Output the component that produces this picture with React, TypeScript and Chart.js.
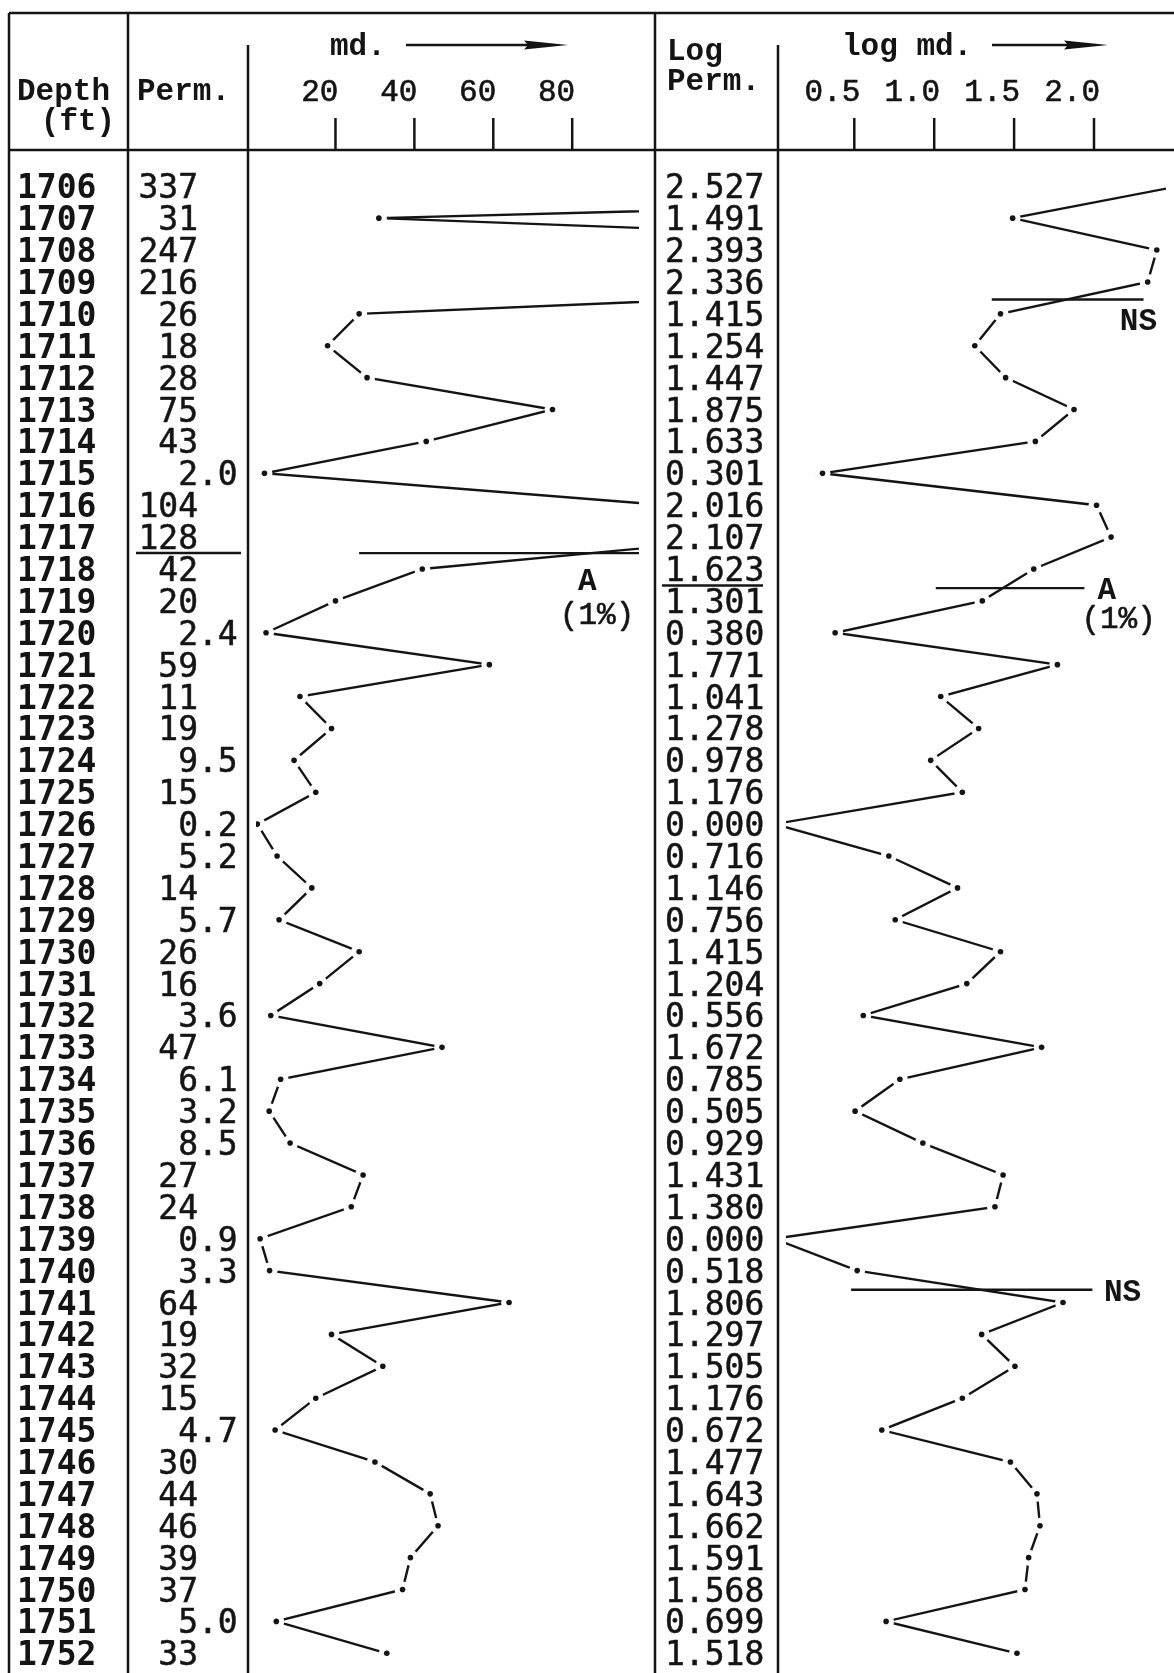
import React, { useEffect, useRef } from 'react';
import { Chart, registerables } from 'chart.js';

Chart.register(...registerables);

// ---------------- data ----------------
const depths = [
  1706, 1707, 1708, 1709, 1710, 1711, 1712, 1713, 1714, 1715, 1716, 1717, 1718, 1719, 1720, 1721,
  1722, 1723, 1724, 1725, 1726, 1727, 1728, 1729, 1730, 1731, 1732, 1733, 1734, 1735, 1736, 1737,
  1738, 1739, 1740, 1741, 1742, 1743, 1744, 1745, 1746, 1747, 1748, 1749, 1750, 1751, 1752,
];
const perm = [
  337, 31, 247, 216, 26, 18, 28, 75, 43, 2.0, 104, 128, 42, 20, 2.4, 59,
  11, 19, 9.5, 15, 0.2, 5.2, 14, 5.7, 26, 16, 3.6, 47, 6.1, 3.2, 8.5, 27,
  24, 0.9, 3.3, 64, 19, 32, 15, 4.7, 30, 44, 46, 39, 37, 5.0, 33,
];
const logPerm = [
  2.527, 1.491, 2.393, 2.336, 1.415, 1.254, 1.447, 1.875, 1.633, 0.301, 2.016, 2.107, 1.623, 1.301, 0.38, 1.771,
  1.041, 1.278, 0.978, 1.176, 0.0, 0.716, 1.146, 0.756, 1.415, 1.204, 0.556, 1.672, 0.785, 0.505, 0.929, 1.431,
  1.38, 0.0, 0.518, 1.806, 1.297, 1.505, 1.176, 0.672, 1.477, 1.643, 1.662, 1.591, 1.568, 0.699, 1.518,
];
const mdTicks = [20, 40, 60, 80];
const logTicks = [0.5, 1.0, 1.5, 2.0];

// boundary lines drawn across the plots (scale units)
const zoneLines = [
  { axis: 'x', depth: 1717.5, from: 26, to: 97 },
  { axis: 'x2', depth: 1718.6, from: 1.01, to: 1.94 },
  { axis: 'x2', depth: 1709.55, from: 1.36, to: 2.31 },
  { axis: 'x2', depth: 1740.6, from: 0.48, to: 1.99 },
];
const zoneLabels = [
  { axis: 'x', text: 'A', x: 83.8, depth: 1718.35, bold: true },
  { axis: 'x', text: '(1%)', x: 86.3, depth: 1719.4, bold: false },
  { axis: 'x2', text: 'A', x: 2.08, depth: 1718.62, bold: true },
  { axis: 'x2', text: '(1%)', x: 2.154, depth: 1719.55, bold: false },
  { axis: 'x2', text: 'NS', x: 2.278, depth: 1710.2, bold: true },
  { axis: 'x2', text: 'NS', x: 2.179, depth: 1740.64, bold: true },
];
// table underlines (depth where the rule is typed)
const permRuleDepth = 1717.5;
const logRuleDepth = 1718.52;

// ---------------- layout ----------------
const W = 1174;
const H = 1673;
const INK = '#141414';
const FONT = '"DejaVu Sans Mono", "Liberation Mono", monospace';
const HFONT = '"Liberation Mono", "DejaVu Sans Mono", monospace';

const LEFT = 9;
const TOP = 13;
const HEAD_BOTTOM = 150;
const COL_PERM = 128;
const COL_PLOT1 = 248;
const COL_LOG = 655;
const COL_PLOT2 = 778;
const DIV_TOP = 45;
const PLOT1_RIGHT = 647;

const ROW0_Y = 180;
const ROW_H = 32.2;
const Y_MIN = depths[0] - ROW0_Y / ROW_H;
const Y_MAX = Y_MIN + H / ROW_H;

const MD_ZERO = 252;
const MD_PX = 4.0;
const LOG_ZERO = 777;
const LOG_PX = 162;

const fmtPerm = (v: number) => (v < 10 ? v.toFixed(1) : String(v));

const tablePlugin = {
  id: 'typedTable',
  beforeDraw(chart: any) {
    const ctx = chart.ctx;
    ctx.save();
    ctx.fillStyle = '#ffffff';
    ctx.fillRect(0, 0, chart.width, chart.height);
    ctx.restore();
  },
  afterDraw(chart: any) {
    const ctx = chart.ctx as CanvasRenderingContext2D;
    const xs = chart.scales.x;
    const xl = chart.scales.x2;
    const ys = chart.scales.y;
    ctx.save();
    ctx.strokeStyle = INK;
    ctx.fillStyle = INK;
    ctx.lineJoin = 'round';
    const seg = (x1: number, y1: number, x2: number, y2: number, w = 2.5) => {
      ctx.lineWidth = w;
      ctx.beginPath();
      ctx.moveTo(x1, y1);
      ctx.lineTo(x2, y2);
      ctx.stroke();
    };
    const text = (s: string, x: number, y: number, font: string, align: CanvasTextAlign, heavy = 0) => {
      ctx.font = font;
      ctx.textAlign = align;
      ctx.fillText(s, x, y);
      if (heavy > 0) {
        ctx.lineWidth = heavy;
        ctx.strokeText(s, x, y);
      }
    };
    const REG = `33px ${FONT}`;
    const BOLD = `bold 33px ${FONT}`;
    const HBOLD = `bold 31px ${HFONT}`;
    const HREG = `31px ${HFONT}`;

    // frame
    seg(LEFT, TOP, W, TOP, 2.5);
    seg(LEFT, HEAD_BOTTOM, W, HEAD_BOTTOM, 2.5);
    seg(LEFT, TOP, LEFT, H, 2.5);
    seg(COL_PERM, TOP, COL_PERM, H, 2.5);
    seg(COL_PLOT1, DIV_TOP, COL_PLOT1, H, 2.5);
    seg(COL_LOG, TOP, COL_LOG, H, 2.5);
    seg(COL_PLOT2, DIV_TOP, COL_PLOT2, H, 2.5);

    // header text
    ctx.textBaseline = 'alphabetic';
    text('Depth', 17, 100, HBOLD, 'left');
    text('(ft)', 78, 130, HBOLD, 'center');
    text('Perm.', 137, 100, HBOLD, 'left');
    text('md.', 330, 55, HBOLD, 'left');
    text('Log', 667, 60, HBOLD, 'left');
    text('Perm.', 667, 90, HBOLD, 'left');
    text('log md.', 842, 55, HBOLD, 'left');

    const arrow = (x1: number, x2: number, y: number) => {
      seg(x1, y, x2 - 30, y, 2.5);
      ctx.beginPath();
      ctx.moveTo(x2, y);
      ctx.lineTo(x2 - 44, y - 4.5);
      ctx.lineTo(x2 - 40, y);
      ctx.lineTo(x2 - 44, y + 4.5);
      ctx.closePath();
      ctx.fill();
    };
    arrow(406, 568, 45);
    arrow(992, 1108, 45);

    // axis ticks
    mdTicks.forEach((t) => {
      const px = xs.getPixelForValue(t);
      text(String(t), px + 3, 101, HREG, 'right', 0.6);
      seg(px, 118, px, HEAD_BOTTOM, 2.5);
    });
    logTicks.forEach((t) => {
      const px = xl.getPixelForValue(t);
      text(t.toFixed(1), px + 6, 101, HREG, 'right', 0.6);
      seg(px, 118, px, HEAD_BOTTOM, 2.5);
    });

    // table rows
    ctx.font = REG;
    const cw = ctx.measureText('0').width;
    depths.forEach((d, i) => {
      const y = ys.getPixelForValue(d) + 12;
      text(String(d), 17, y, BOLD, 'left');
      const s = fmtPerm(perm[i]);
      text(s, s.includes('.') ? 198 + 2 * cw : 198, y, REG, 'right', 0.5);
      text(logPerm[i].toFixed(3), 665, y, REG, 'left', 0.5);
    });

    // typed rules in the table
    seg(136, ys.getPixelForValue(permRuleDepth), 241, ys.getPixelForValue(permRuleDepth), 2.5);
    seg(662, ys.getPixelForValue(logRuleDepth), 763, ys.getPixelForValue(logRuleDepth), 2.5);

    // zone labels
    zoneLabels.forEach((l) => {
      const sc = l.axis === 'x' ? xs : xl;
      text(
        l.text,
        sc.getPixelForValue(l.x),
        ys.getPixelForValue(l.depth) + 10,
        l.bold ? HBOLD : HREG,
        'center',
        l.bold ? 0 : 0.6,
      );
    });
    ctx.restore();
  },
};

export default function App() {
  const ref = useRef<HTMLCanvasElement | null>(null);

  useEffect(() => {
    document.body.style.margin = '0';
    const canvas = ref.current;
    if (!canvas) return;

    const mdPts = depths.map((d, i) => ({ x: perm[i], y: d }));
    const logPts = depths.map((d, i) => ({ x: logPerm[i], y: d }));
    const mdClip = { left: -COL_PLOT1, right: -(W - PLOT1_RIGHT), top: -HEAD_BOTTOM, bottom: 0 };
    const logClip = { left: -COL_PLOT2, right: 0, top: -HEAD_BOTTOM, bottom: 0 };

    const datasets: any[] = [
      {
        data: mdPts, xAxisID: 'x', yAxisID: 'y', showLine: false, order: 0,
        pointRadius: 2.8, pointBackgroundColor: INK, pointBorderWidth: 0, clip: mdClip,
      },
      {
        data: logPts, xAxisID: 'x2', yAxisID: 'y', showLine: false, order: 0,
        pointRadius: 2.8, pointBackgroundColor: INK, pointBorderWidth: 0, clip: logClip,
      },
      {
        data: mdPts, xAxisID: 'x', yAxisID: 'y', order: 1,
        borderColor: INK, borderWidth: 2.4, tension: 0,
        pointRadius: 8, pointBackgroundColor: '#ffffff', pointBorderWidth: 0, clip: mdClip,
      },
      {
        data: logPts, xAxisID: 'x2', yAxisID: 'y', order: 1,
        borderColor: INK, borderWidth: 2.4, tension: 0,
        pointRadius: 8, pointBackgroundColor: '#ffffff', pointBorderWidth: 0, clip: logClip,
      },
      ...zoneLines.map((z) => ({
        data: [{ x: z.from, y: z.depth }, { x: z.to, y: z.depth }],
        xAxisID: z.axis, yAxisID: 'y', order: 2,
        borderColor: INK, borderWidth: 2.3, pointRadius: 0,
        clip: z.axis === 'x' ? mdClip : logClip,
      })),
    ];

    const chart = new Chart(canvas, {
      type: 'line',
      data: { datasets },
      options: {
        animation: false,
        responsive: false,
        devicePixelRatio: 1,
        events: [],
        layout: { padding: 0 },
        plugins: { legend: { display: false }, tooltip: { enabled: false } },
        scales: {
          x: { type: 'linear', display: false, min: -MD_ZERO / MD_PX, max: (W - MD_ZERO) / MD_PX },
          x2: { type: 'linear', display: false, min: -LOG_ZERO / LOG_PX, max: (W - LOG_ZERO) / LOG_PX },
          y: { type: 'linear', display: false, reverse: true, min: Y_MIN, max: Y_MAX },
        },
      },
      plugins: [tablePlugin],
    });
    return () => chart.destroy();
  }, []);

  return (
    <div style={{ position: 'absolute', left: 0, top: 0, width: W, height: H, background: '#fff' }}>
      <canvas ref={ref} width={W} height={H} style={{ display: 'block' }} />
    </div>
  );
}
